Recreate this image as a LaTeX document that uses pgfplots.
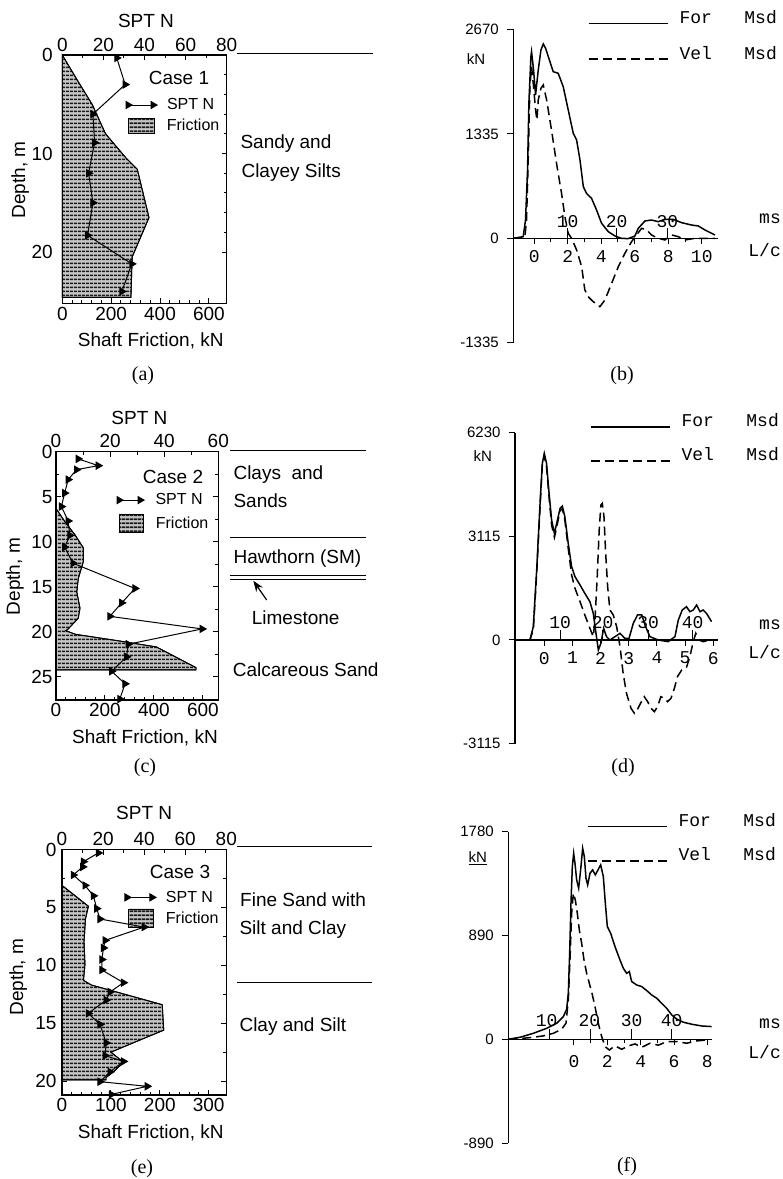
\documentclass[border=0pt]{standalone}
\usepackage{fontspec}
\setmainfont{Liberation Sans}
\newfontfamily\monof{Liberation Mono}
\newfontfamily\seriff{Liberation Serif}
\usepackage{pgfplots}
\pgfplotsset{compat=1.18}
\usetikzlibrary{patterns.meta,arrows.meta}
\newcommand\lf{\fontsize{19}{22}\selectfont}
\newcommand\gf{\fontsize{16}{19}\selectfont}
\newcommand\mf{\monof\fontsize{18}{21}\selectfont}
\newcommand\yf{\fontsize{15}{17}\selectfont}
\newcommand\kf{\fontsize{15}{17}\selectfont}
\newcommand\cf{\seriff\fontsize{20}{22}\selectfont}
\pgfplotsset{
 leftpanel/.style={scale only axis, y dir=reverse, tick align=inside,
   axis line style={line width=1.4pt}, tick style={line width=1pt, black},
   major tick length=5pt, minor tick length=3pt,
   tick label style={font=\lf}, label style={font=\lf}},
 frictionfill/.style={draw=black, line width=0.9pt, fill=gray!45,
   postaction={pattern={Lines[angle=0,distance=4pt,line width=2pt]}, pattern color=black!90}},
 sptline/.style={black, line width=1pt, mark=triangle*, mark size=4pt,
   mark options={rotate=-90, solid, fill=black}},
 fleg/.style={draw=none, fill=none, inner sep=0pt, outer sep=0pt, column sep=12pt,
   anchor=west, cells={anchor=west}, nodes={inner sep=0pt}, font=\gf},
 wave/.style={scale only axis, axis x line=middle, axis y line=left,
   axis line style={-, line width=1.4pt}, hide obscured x ticks=false, hide obscured y ticks=false,
   tick align=outside, tick style={line width=1pt, black},
   major tick length=6pt, minor tick length=4pt,
   yticklabel style={font=\yf, xshift=-5pt}, xticklabel style={font=\mf, yshift=-2.5pt},
   clip=false,
   legend image code/.code={\draw[##1] (0pt,0pt) -- (79pt,0pt);}},
 wleg/.style={draw=none, fill=none, inner sep=0pt, outer sep=0pt, column sep=11pt,
   anchor=south west, cells={anchor=base west}, nodes={inner sep=0pt}, font=\mf},
 force/.style={black, line width=1.5pt},
 vel/.style={black, line width=1.5pt, dash pattern=on 9pt off 5pt},
}
\begin{document}
\begin{tikzpicture}[x=1pt,y=1pt]
\useasboundingbox (0,0) rectangle (783,1179);

%================ (a) =================
\begin{axis}[leftpanel, at={(62.3pt,875.7pt)}, anchor=south west, width=164.4pt, height=248.3pt,
 xmin=0, xmax=673, ymin=0, ymax=25.2, clip=false,
 xtick={0,200,400,600}, xticklabels={0,200,400,600}, minor x tick num=4, xtick pos=left, xticklabel pos=left,
 ytick={0,10,20}, yticklabels={0,10,20}, minor y tick num=4, ytick pos=both, yticklabel pos=left,
 yticklabel style={xshift=-6pt},
 xlabel={Shaft Friction, kN}, xlabel style={at={(axis description cs:0.538,-0.1748)}, anchor=base},
 ylabel={Depth, m}, ylabel style={at={(axis description cs:-0.2555,0.497)}, anchor=center},
 legend style={fleg, at={(0.3996,0.716)}},
 legend image code/.code={\draw[#1] (0pt,-7.5pt) rectangle (26pt,7.5pt);}]
\addplot[frictionfill] coordinates {(0,0) (60,2.5) (122,5.0) (177,8.0) (259,10.4) (307,11.6) (355,16.5) (286,20.5) (281,24.6) (0,24.6)} --cycle;
\addlegendentry{Friction}
\addplot[black, line width=1pt, forget plot] coordinates {(715,-0.17) (1272,-0.17)};
\end{axis}
\begin{axis}[leftpanel, at={(62.3pt,875.7pt)}, anchor=south west, width=164.4pt, height=248.3pt,
 xmin=0, xmax=80, ymin=0, ymax=25.2,
 xtick={0,20,40,60,80}, xticklabels={0,20,40,60,80}, minor x tick num=1, xtick pos=right, xticklabel pos=right,
 ytick=\empty,
 xlabel={SPT N}, xlabel style={at={(axis description cs:0.509,1.110)}, anchor=base},
 legend style={fleg, column sep=10pt, at={(0.3875,0.7986)}},
 legend image code/.code={\draw[#1] plot coordinates {(0pt,0pt) (25pt,0pt)};}]
\addplot[sptline] coordinates {(26.5,0.3) (30.6,3.0) (14.9,6.0) (15.7,8.9) (12.8,12.0) (14.9,15.0) (12.3,18.3) (33.8,21.2) (29,24.0)};
\addlegendentry{SPT N}
\end{axis}
\node[font=\lf, anchor=base] at (179,1094) {Case 1};
\node[font=\lf, anchor=base west] at (237,1030.7) {Sandy and};
\node[font=\lf, anchor=base west] at (238,1001.7) {Clayey Silts};

%================ (c) =================
\begin{axis}[leftpanel, at={(56pt,479pt)}, anchor=south west, width=162.3pt, height=248.3pt,
 xmin=0, xmax=663, ymin=0, ymax=27.6, clip=false,
 xtick={0,200,400,600}, xticklabels={0,200,400,600}, minor x tick num=4, xtick pos=left, xticklabel pos=left,
 ytick={0,5,10,15,20,25}, yticklabels={0,5,10,15,20,25}, minor y tick num=1, ytick pos=both, yticklabel pos=left,
 xlabel={Shaft Friction, kN}, xlabel style={at={(axis description cs:0.548,-0.1744)}, anchor=base},
 ylabel={Depth, m}, ylabel style={at={(axis description cs:-0.253,0.497)}, anchor=center},
 legend style={fleg, at={(0.388,0.713)}},
 legend image code/.code={\draw[#1] (0pt,-9pt) rectangle (24pt,9pt);}]
\addplot[frictionfill] coordinates {(0,6.3) (37,7.8) (78,9.26) (112,10.7) (112,12.2) (91,14.1) (85,15.6) (98,17.4) (91,18.5) (50,19.7) (40,19.9) (80,20.3) (250,21.0) (410,21.7) (572,24.0) (572,24.25) (0,24.25)} --cycle;
\addlegendentry{Friction}
\addplot[black, line width=1pt, forget plot] coordinates {(712,-0.08) (1265,-0.08)};
\addplot[black, line width=1pt, forget plot] coordinates {(712,9.51) (1265,9.51)};
\addplot[black, line width=1pt, forget plot] coordinates {(712,13.78) (1265,13.78)};
\addplot[black, line width=1pt, forget plot] coordinates {(712,14.26) (1265,14.26)};
\end{axis}
\begin{axis}[leftpanel, at={(56pt,479pt)}, anchor=south west, width=162.3pt, height=248.3pt,
 xmin=0, xmax=60, ymin=0, ymax=27.6,
 xtick={0,20,40,60}, xticklabels={0,20,40,60}, minor x tick num=1, xtick pos=right, xticklabel pos=right,
 ytick=\empty,
 xlabel={SPT N}, xlabel style={at={(axis description cs:0.514,1.110)}, anchor=base},
 legend style={fleg, column sep=11.5pt, at={(0.376,0.805)}},
 legend image code/.code={\draw[#1] plot coordinates {(0pt,0pt) (21pt,0pt)};}]
\addplot[sptline] coordinates {(8.2,0.8) (15.6,1.55) (7.6,2.0) (4.5,3.1) (3.2,4.6) (2.0,6.1) (4.5,7.7) (5.1,9.3) (3.2,10.6) (6.3,12.4) (29.2,15.2) (24.3,16.8) (19.9,18.3) (54,19.7) (26.7,21.4) (26.1,22.8) (20.6,24.4) (25.5,25.8) (23.6,27.5)};
\addlegendentry{SPT N}
\end{axis}
\node[font=\lf, anchor=base] at (173,695.7) {Case 2};
\node[font=\lf, anchor=base west] at (230,699) {Clays\ \ and};
\node[font=\lf, anchor=base west] at (230,671.7) {Sands};
\node[font=\lf, anchor=base west] at (230,615.7) {Hawthorn (SM)};
\node[font=\lf, anchor=base west] at (248.3,554) {Limestone};
\node[font=\lf, anchor=base west] at (229.3,502.3) {Calcareous Sand};
\draw[line width=1.2pt, -{Stealth[length=11pt,width=8pt]}] (266.7,579) -- (253.3,598.3);

%================ (e) =================
\begin{axis}[leftpanel, at={(62pt,84pt)}, anchor=south west, width=164.3pt, height=245.5pt,
 xmin=0, xmax=336, ymin=0, ymax=21.2, clip=false,
 xtick={0,100,200,300}, xticklabels={0,100,200,300}, minor x tick num=4, xtick pos=left, xticklabel pos=left,
 ytick={0,5,10,15,20}, yticklabels={0,5,10,15,20}, minor y tick num=1, ytick pos=both, yticklabel pos=left,
 yticklabel style={xshift=-2pt},
 xlabel={Shaft Friction, kN}, xlabel style={at={(axis description cs:0.54,-0.1764)}, anchor=base},
 ylabel={Depth, m}, ylabel style={at={(axis description cs:-0.266,0.48)}, anchor=center},
 legend style={fleg, at={(0.402,0.721)}},
 legend image code/.code={\draw[#1] (0pt,-9pt) rectangle (25pt,9pt);}]
\addplot[frictionfill] coordinates {(0,3.1) (54,4.9) (48,6.0) (45,8.0) (47,9.9) (44,11.3) (60,11.7) (205,13.4) (208,15.6) (100,17.5) (115,18.0) (125,18.4) (108,19.1) (90,19.7) (90,19.9) (0,19.9)} --cycle;
\addlegendentry{Friction}
\addplot[black, line width=1pt, forget plot] coordinates {(358,-0.24) (634,-0.24)};
\addplot[black, line width=1pt, forget plot] coordinates {(358,11.47) (634,11.47)};
\end{axis}
\begin{axis}[leftpanel, at={(62pt,84pt)}, anchor=south west, width=164.3pt, height=245.5pt,
 xmin=0, xmax=80, ymin=0, ymax=21.2,
 xtick={0,20,40,60,80}, xticklabels={0,20,40,60,80}, minor x tick num=1, xtick pos=right, xticklabel pos=right,
 ytick=\empty,
 xlabel={SPT N}, xlabel style={at={(axis description cs:0.50,1.123)}, anchor=base},
 legend style={fleg, column sep=10pt, at={(0.383,0.805)}},
 legend image code/.code={\draw[#1] plot coordinates {(0pt,0pt) (25pt,0pt)};}]
\addplot[sptline] coordinates {(17.7,0.3) (10.4,1.05) (10.1,1.5) (5.5,2.2) (11.2,3.1) (15.3,4.0) (16.9,5.1) (18.5,6.0) (40,6.7) (21,7.85) (20.2,8.5) (19.4,9.5) (19.4,10.4) (29.9,11.5) (23.4,12.3) (21.5,13.0) (12.8,14.15) (18.5,15.1) (21.5,16.7) (21,17.8) (29.9,18.3) (23.4,19.2) (18.5,20.05) (41.5,20.45) (24,21.15)};
\addlegendentry{SPT N}
\end{axis}
\node[font=\lf, anchor=base] at (180,300.7) {Case 3};
\node[font=\lf, anchor=base west] at (236.7,272.3) {Fine Sand with};
\node[font=\lf, anchor=base west] at (236,244) {Silt and Clay};
\node[font=\lf, anchor=base west] at (236,147.3) {Clay and Silt};

%================ (b) =================
\begin{axis}[wave, at={(513.3pt,836.2pt)}, anchor=south west, width=204.7pt, height=313.4pt,
 xmin=-1.25, xmax=10.97, ymin=-1335, ymax=2670,
 xtick={0,2,4,6,8,10}, xticklabels={0,2,4,6,8,10}, minor x tick num=1,
 ytick={-1335,0,1335,2670}, yticklabels={-1335,0,1335,2670},
 extra x ticks={2.0,4.92,7.95}, extra x tick labels={},
 extra x tick style={major tick length=10pt, tick align=inside},
 legend style={wleg, row sep=21.2pt, at={(0.365,0.9003)}}]
\addplot[force] coordinates {(-1.25,0) (-0.66,21) (-0.52,234) (-0.40,873) (-0.32,1725) (-0.20,2322) (-0.16,2386) (-0.04,2151) (0.08,1832) (0.24,2151) (0.40,2407) (0.54,2484) (0.68,2428) (0.84,2322) (1.13,2130) (1.43,2109) (1.73,1938) (2.03,1640) (2.33,1342) (2.53,1257) (2.73,1001) (2.93,660) (3.12,575) (3.42,511) (3.72,362) (4.02,192) (4.42,85) (4.82,30) (5.21,0) (5.61,-4) (6.01,30) (6.21,128) (6.61,222) (7.00,234) (7.40,213) (7.80,243) (8.30,243) (8.80,200) (9.39,170) (9.79,158) (10.19,107) (10.79,43)};
\addlegendentry{For\hspace{32.5pt}Msd}
\addplot[vel] coordinates {(-1.25,0) (-0.56,13) (-0.46,234) (-0.36,1001) (-0.26,1938) (-0.16,2194) (-0.04,1938) (0.08,1640) (0.16,1512) (0.24,1768) (0.40,1917) (0.54,1960) (0.74,1768) (1.03,1385) (1.33,959) (1.63,575) (1.83,277) (2.03,64) (2.23,0) (2.53,-149) (2.83,-362) (3.02,-660) (3.22,-746) (3.52,-809) (3.92,-873) (4.22,-788) (4.62,-575) (5.02,-362) (5.41,-192) (5.81,-43) (6.11,43) (6.41,128) (6.71,107) (7.00,43) (7.40,0) (7.80,-21) (8.20,43) (8.60,21) (9.00,-21) (9.59,0) (10.19,0) (10.79,0)};
\addlegendentry{Vel\hspace{32.5pt}Msd}
\node[font=\mf, anchor=base, inner sep=0pt] at (axis cs:2.0,0) [yshift=11.3pt] {10};
\node[font=\mf, anchor=base, inner sep=0pt] at (axis cs:4.92,0) [yshift=11.3pt] {20};
\node[font=\mf, anchor=base, inner sep=0pt] at (axis cs:7.95,0) [yshift=11.3pt] {30};
\end{axis}
\node[font=\kf, anchor=base west] at (463.3,1114) {kN};
\node[font=\mf, anchor=base east, inner sep=0pt] at (781,955.7) {ms};
\node[font=\mf, anchor=base east, inner sep=0pt] at (781,922.3) {L/c};

%================ (d) =================
\begin{axis}[wave, at={(515pt,435.3pt)}, anchor=south west, width=203.3pt, height=311.1pt,
 xmin=-1.04, xmax=6.18, ymin=-3115, ymax=6230,
 xtick={0,1,2,3,4,5,6}, xticklabels={0,1,2,3,4,5,6},
 ytick={-3115,0,3115,6230}, yticklabels={-3115,0,3115,6230},
 extra x ticks={0.56,2.07,3.69,5.27}, extra x tick labels={},
 extra x tick style={major tick length=10pt, tick align=inside},
 legend style={wleg, row sep=19.4pt, at={(0.369,0.9044)}}]
\addplot[force] coordinates {(-1.04,0) (-0.51,0) (-0.39,400) (-0.27,2102) (-0.15,4104) (-0.07,5305) (0.00,5606) (0.08,5305) (0.17,4404) (0.26,3604) (0.36,3203) (0.44,3504) (0.56,3954) (0.64,4024) (0.73,3704) (0.85,2903) (0.97,2202) (1.09,1902) (1.27,1652) (1.44,1401) (1.62,1151) (1.74,801) (1.82,300) (1.92,-300) (2.01,-100) (2.11,350) (2.21,100) (2.33,0) (2.51,100) (2.69,200) (2.86,50) (3.01,50) (3.16,500) (3.31,751) (3.46,751) (3.60,400) (3.75,100) (4.05,0) (4.40,-50) (4.64,100) (4.76,601) (4.90,901) (5.05,1001) (5.17,851) (5.29,901) (5.41,1051) (5.53,851) (5.64,901) (5.76,801) (5.94,551)};
\addlegendentry{For\hspace{32.5pt}Msd}
\addplot[vel] coordinates {(-1.04,0) (-0.51,0) (-0.39,300) (-0.27,2002) (-0.15,4004) (-0.07,5255) (0.00,5526) (0.08,5205) (0.17,4284) (0.26,3453) (0.36,3083) (0.44,3383) (0.56,3884) (0.64,3944) (0.73,3604) (0.85,2753) (0.97,1952) (1.09,1552) (1.27,1151) (1.44,751) (1.62,350) (1.74,100) (1.80,601) (1.88,1902) (1.95,3303) (2.01,4054) (2.06,4104) (2.12,3704) (2.18,2603) (2.25,1602) (2.33,901) (2.45,751) (2.57,400) (2.69,-200) (2.80,-1001) (2.92,-1602) (3.08,-2052) (3.20,-2202) (3.31,-2082) (3.43,-1882) (3.55,-1702) (3.67,-1852) (3.79,-2052) (3.91,-2152) (4.02,-2002) (4.14,-1702) (4.26,-1752) (4.38,-1852) (4.50,-1752) (4.62,-1451) (4.73,-1101) (4.88,-901) (5.05,-821) (5.17,-500) (5.29,-50) (5.38,200) (5.49,0) (5.64,-50) (5.88,0)};
\addlegendentry{Vel\hspace{32.5pt}Msd}
\node[font=\mf, anchor=base, inner sep=0pt] at (axis cs:0.56,0) [yshift=11.7pt] {10};
\node[font=\mf, anchor=base, inner sep=0pt] at (axis cs:2.07,0) [yshift=11.7pt] {20};
\node[font=\mf, anchor=base, inner sep=0pt] at (axis cs:3.69,0) [yshift=11.7pt] {30};
\node[font=\mf, anchor=base, inner sep=0pt] at (axis cs:5.27,0) [yshift=11.7pt] {40};
\end{axis}
\node[font=\kf, anchor=base west] at (470,717.3) {kN};
\node[font=\mf, anchor=base east, inner sep=0pt] at (781,549) {ms};
\node[font=\mf, anchor=base east, inner sep=0pt] at (781,520.7) {L/c};

%================ (f) =================
\begin{axis}[wave, at={(508.3pt,36pt)}, anchor=south west, width=203.4pt, height=311.2pt,
 xmin=-3.94, xmax=8.26, ymin=-890, ymax=1780,
 xtick={0,2,4,6,8}, xticklabels={0,2,4,6,8}, minor x tick num=1,
 xticklabel style={yshift=-4.5pt},
 ytick={-890,0,890,1780}, yticklabels={-890,0,890,1780},
 extra x ticks={-1.45,1.0,3.46,5.86}, extra x tick labels={},
 extra x tick style={major tick length=10pt, tick align=inside},
 legend style={wleg, row sep=19.7pt, at={(0.387,0.9018)}}]
\addplot[force] coordinates {(-3.94,0) (-3.24,17) (-2.44,51) (-1.64,94) (-1.04,137) (-0.64,194) (-0.44,257) (-0.34,395) (-0.26,738) (-0.18,1167) (-0.10,1481) (-0.02,1596) (0.06,1510) (0.16,1367) (0.28,1296) (0.40,1453) (0.52,1639) (0.62,1567) (0.72,1381) (0.82,1324) (0.96,1424) (1.12,1453) (1.28,1410) (1.44,1453) (1.60,1496) (1.76,1396) (1.88,1167) (2.00,967) (2.20,909) (2.46,795) (2.72,695) (2.96,609) (3.16,566) (3.32,581) (3.46,495) (3.76,466) (4.06,452) (4.36,418) (4.66,380) (4.96,352) (5.26,309) (5.56,266) (5.86,209) (6.16,174) (6.56,146) (7.06,129) (7.66,114) (8.26,109)};
\addlegendentry{For\hspace{32.5pt}Msd}
\addplot[vel] coordinates {(-3.94,0) (-3.24,6) (-2.44,17) (-1.84,29) (-1.24,51) (-0.74,86) (-0.48,137) (-0.34,337) (-0.24,681) (-0.14,1081) (-0.04,1253) (0.08,1195) (0.20,1081) (0.32,938) (0.46,824) (0.60,681) (0.76,566) (0.92,480) (1.08,395) (1.26,280) (1.46,137) (1.66,23) (1.86,-63) (2.12,-92) (2.46,-57) (2.86,-86) (3.26,-57) (3.66,-40) (4.06,-69) (4.56,-34) (5.06,-51) (5.56,-20) (6.16,-20) (6.76,-34) (7.36,-14) (7.96,-6)};
\addlegendentry{Vel\hspace{32.5pt}Msd}
\node[font=\mf, anchor=base, inner sep=0pt] at (axis cs:-1.64,0) [yshift=12.6pt] {10};
\node[font=\mf, anchor=base, inner sep=0pt] at (axis cs:0.92,0) [yshift=12.6pt] {20};
\node[font=\mf, anchor=base, inner sep=0pt] at (axis cs:3.46,0) [yshift=12.6pt] {30};
\node[font=\mf, anchor=base, inner sep=0pt] at (axis cs:5.86,0) [yshift=12.6pt] {40};
\end{axis}
\node[font=\kf, anchor=base west] at (465,316.3) {\underline{kN}};
\node[font=\mf, anchor=base east, inner sep=0pt] at (781,150.7) {ms};
\node[font=\mf, anchor=base east, inner sep=0pt] at (781,120.7) {L/c};

%================ captions =================
\node[font=\cf] at (143,803) {(a)};
\node[font=\cf] at (622,803) {(b)};
\node[font=\cf] at (145,411) {(c)};
\node[font=\cf] at (623,411) {(d)};
\node[font=\cf] at (142,10.5) {(e)};
\node[font=\cf] at (627,12) {(f)};
\end{tikzpicture}
\end{document}
